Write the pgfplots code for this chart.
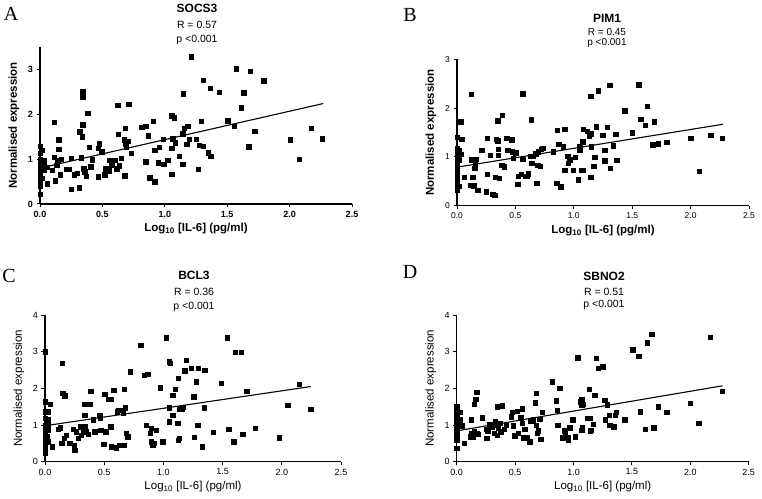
\documentclass[border=0pt]{standalone}
\usepackage{pgfplots}
\pgfplotsset{compat=1.18}
\usepackage{fontspec}
\setmainfont{Liberation Sans}
\newfontfamily\letterfont{Liberation Serif}

\pgfplotstableread{
x y
0.000 1.29
0.000 1.13
0.000 1.00
0.000 0.91
0.000 0.79
0.000 0.68
0.000 0.59
0.000 0.50
0.000 0.41
0.000 0.22
0.020 1.20
0.030 0.85
0.035 0.76
0.020 0.57
0.035 0.98
0.054 0.82
0.060 0.45
0.116 1.83
0.116 1.04
0.122 0.52
0.100 0.76
0.149 1.43
0.149 1.22
0.143 0.97
0.162 0.65
0.170 1.00
0.135 0.87
0.208 0.77
0.235 0.77
0.249 0.33
0.251 1.02
0.276 0.65
0.297 0.68
0.316 0.36
0.319 1.61
0.338 1.50
0.343 2.50
0.343 2.38
0.343 1.77
0.332 1.03
0.351 0.79
0.357 0.72
0.370 0.62
0.381 2.03
0.392 1.26
0.405 0.83
0.419 0.99
0.465 0.61
0.468 1.24
0.473 1.34
0.495 1.17
0.519 0.65
0.527 0.79
0.549 0.74
0.554 0.97
0.568 0.98
0.576 0.87
0.603 0.97
0.614 0.79
0.624 2.20
0.627 1.55
0.635 0.85
0.649 1.02
0.678 0.63
0.681 1.69
0.676 1.43
0.681 1.34
0.689 1.28
0.703 1.40
0.711 2.23
0.730 1.13
0.814 1.71
0.846 1.74
0.865 1.52
0.846 0.94
0.878 0.59
0.905 1.85
0.919 1.20
0.919 0.50
0.949 0.92
0.954 1.26
0.990 0.89
1.022 0.98
0.985 1.44
1.054 1.25
1.054 1.97
1.073 1.92
1.062 1.46
1.081 1.37
1.054 0.66
1.116 1.07
1.142 0.89
1.142 1.57
1.148 2.46
1.156 1.69
1.183 1.74
1.175 1.33
1.196 1.44
1.210 3.28
1.250 1.44
1.269 0.78
1.277 1.31
1.290 1.85
1.309 2.76
1.309 1.29
1.349 1.14
1.363 2.58
1.368 1.07
1.438 2.49
1.505 1.86
1.556 1.73
1.570 3.02
1.610 2.15
1.632 2.48
1.672 1.28
1.685 2.96
1.720 1.62
1.793 2.75
2.003 1.43
2.075 1.00
2.172 1.69
2.263 1.46
}\dataA

\pgfplotstableread{
x y
0 1.40
0 1.18
0 1.11
0 1.01
0 0.94
0 0.83
0 0.73
0 0.65
0 0.56
0 0.47
0 0.39
0 0.32
0.030 1.72
0.040 1.36
0.020 1.14
0.030 1.06
0.020 0.94
0.020 0.40
0.060 0.59
0.122 2.29
0.122 0.94
0.114 0.42
0.134 0.59
0.142 0.41
0.151 0.77
0.156 0.85
0.165 0.95
0.176 0.32
0.213 1.14
0.250 0.29
0.256 0.64
0.261 1.38
0.284 1.04
0.307 0.24
0.321 0.22
0.327 0.59
0.335 1.36
0.347 1.33
0.349 1.74
0.355 1.16
0.355 1.04
0.361 0.56
0.389 1.85
0.384 0.83
0.406 0.80
0.426 1.38
0.435 1.14
0.469 1.35
0.474 1.11
0.483 0.97
0.503 1.09
0.520 0.44
0.526 0.61
0.548 0.65
0.563 0.95
0.563 2.30
0.582 0.61
0.597 0.61
0.611 0.66
0.625 1.02
0.634 1.76
0.639 0.87
0.653 1.02
0.673 1.07
0.682 0.46
0.690 0.83
0.696 1.11
0.710 0.81
0.719 1.16
0.733 1.18
0.824 1.11
0.858 1.55
0.852 0.46
0.872 1.26
0.889 0.39
0.909 1.21
0.923 1.57
0.923 0.73
0.946 1.02
0.952 0.87
0.966 0.94
0.994 0.73
1.010 1.00
1.040 0.53
1.080 1.57
1.080 0.73
1.066 0.73
1.049 1.21
1.049 1.14
1.077 1.31
1.114 1.53
1.143 2.25
1.134 1.43
1.143 1.48
1.149 1.21
1.143 0.58
1.171 0.81
1.180 0.99
1.194 1.62
1.211 2.36
1.249 1.45
1.266 1.14
1.266 0.92
1.286 1.61
1.306 2.47
1.309 0.77
1.337 1.23
1.357 1.46
1.366 0.93
1.437 1.95
1.500 1.50
1.557 2.48
1.571 1.77
1.609 1.65
1.629 2.04
1.686 1.72
1.674 1.25
1.723 1.27
1.794 1.30
2.000 1.38
2.071 0.71
2.171 1.45
2.271 1.39
}\dataB

\pgfplotstableread{
x y
0 3.00
0 1.64
0 1.36
0 1.18
0 1.00
0 0.86
0 0.73
0 0.59
0 0.47
0 0.36
0 0.23
0.028 1.36
0.042 1.56
0.028 1.14
0.022 0.98
0.028 0.86
0.014 0.68
0.022 0.55
0.062 0.41
0.112 0.89
0.126 0.93
0.146 2.68
0.151 1.86
0.168 1.80
0.140 0.50
0.162 0.64
0.180 0.73
0.210 0.50
0.238 0.89
0.246 0.45
0.252 0.32
0.266 0.82
0.280 0.64
0.303 0.95
0.308 0.73
0.322 0.86
0.336 1.56
0.336 1.27
0.342 0.95
0.350 0.82
0.364 0.75
0.378 1.56
0.387 1.93
0.406 1.14
0.420 0.82
0.462 1.27
0.468 1.18
0.470 0.86
0.504 1.84
0.513 0.82
0.496 0.47
0.538 1.70
0.560 1.70
0.554 0.95
0.560 0.41
0.580 1.95
0.602 0.38
0.610 1.36
0.622 1.41
0.630 0.45
0.650 1.41
0.658 1.32
0.667 1.98
0.667 0.45
0.678 1.47
0.686 0.77
0.700 0.68
0.720 2.45
0.807 3.18
0.840 2.36
0.868 2.39
0.854 1.00
0.890 0.77
0.896 0.55
0.910 0.45
0.924 0.50
0.938 0.86
0.896 0.91
0.975 2.02
0.994 0.55
1.022 3.38
1.050 2.73
1.059 2.68
1.050 1.09
1.050 1.47
1.078 1.82
1.078 1.27
1.100 1.98
1.125 2.27
1.120 1.05
1.125 0.59
1.134 0.64
1.134 1.44
1.156 1.44
1.166 1.48
1.180 2.48
1.194 2.77
1.234 2.55
1.255 1.77
1.259 0.66
1.275 2.18
1.296 2.55
1.290 1.00
1.330 0.41
1.345 1.47
1.350 2.50
1.420 0.81
1.486 2.14
1.537 3.38
1.550 0.89
1.593 0.55
1.607 2.98
1.655 2.98
1.669 0.75
1.703 1.93
1.773 0.91
1.979 0.65
2.049 1.54
2.148 2.12
2.244 1.43
}\dataC

\pgfplotstableread{
x y
0 1.52
0 1.38
0 1.27
0 1.18
0 1.09
0 1.00
0 0.91
0 0.82
0 0.71
0 0.59
0 0.36
0.030 1.35
0.030 1.14
0.037 0.98
0.048 0.98
0.065 0.50
0.122 1.14
0.114 0.68
0.128 0.77
0.142 0.68
0.150 1.56
0.162 1.70
0.170 1.89
0.150 0.82
0.170 0.77
0.180 0.75
0.219 1.20
0.250 0.89
0.256 0.64
0.264 0.84
0.284 1.02
0.298 0.94
0.321 0.77
0.327 1.11
0.335 1.00
0.347 0.73
0.349 1.50
0.355 0.91
0.369 1.05
0.378 0.82
0.389 1.53
0.406 0.89
0.426 1.00
0.469 1.23
0.474 1.35
0.483 0.98
0.497 0.71
0.520 1.38
0.526 0.77
0.548 1.20
0.560 1.44
0.563 1.05
0.568 0.65
0.582 0.89
0.605 0.65
0.625 0.55
0.634 1.11
0.653 1.14
0.673 1.61
0.682 1.86
0.682 1.00
0.690 0.77
0.696 0.84
0.710 1.16
0.719 0.61
0.730 1.35
0.815 2.18
0.852 1.66
0.861 1.41
0.866 1.00
0.881 2.00
0.909 0.65
0.923 0.84
0.929 0.77
0.952 0.59
0.957 0.65
0.966 0.93
0.994 1.14
1.014 0.68
1.037 2.84
1.074 0.93
1.071 1.71
1.080 1.56
1.057 1.64
1.071 1.55
1.071 0.86
1.123 1.18
1.143 1.18
1.134 1.98
1.143 0.84
1.149 0.86
1.169 1.02
1.180 1.82
1.194 2.82
1.209 2.55
1.249 2.59
1.266 1.68
1.271 1.14
1.286 1.55
1.306 1.27
1.309 1.00
1.343 0.95
1.357 1.27
1.366 1.35
1.437 1.14
1.506 3.05
1.557 2.88
1.571 1.36
1.614 0.89
1.631 3.25
1.671 3.47
1.686 0.93
1.723 1.50
1.797 1.35
2.000 1.60
2.071 1.05
2.171 3.40
2.271 1.93
}\dataD

\pgfplotsset{
  prism/.style={
    scale only axis, anchor=south west,
    axis lines=left, axis line style={-, line width=1.3pt},
    xmin=0, xmax=2.5, ymin=0,
    xtick={0,0.5,1,1.5,2,2.5},
    tick align=outside, major tick length=3.5pt,
    tick style={line width=1pt, black},
    /pgf/number format/assume math mode=true,
    xticklabel style={/pgf/number format/.cd, fixed, fixed zerofill, precision=1},
    ticklabel style={font=\fontsize{9}{10}\selectfont},
    xlabel={Log\textsubscript{10} [IL-6] (pg/ml)},
    ylabel={Normalised expression},
    label style={font=\fontsize{11.5}{13}\selectfont},
    xlabel style={at={([yshift=-25pt]axis description cs:0.5,0)}, anchor=center},
    ylabel style={at={([xshift=-26pt]axis description cs:0,0.5)}, anchor=center},
    clip=false,
  },
  toprow/.style={
    ticklabel style={font=\fontsize{9}{10}\selectfont\bfseries},
    label style={font=\fontsize{11.5}{13}\selectfont\bfseries},
  },
  pts/.style={only marks, mark=square*, mark size=2.2pt, black},
  fit/.style={no marks, black, line width=1.1pt},
}

\begin{document}
\begin{tikzpicture}
% Panel A
\begin{axis}[prism, toprow, at={(40pt,294pt)}, width=312pt, height=157pt, ymax=3.5, ytick={0,1,2,3}]
\addplot[pts] table {\dataA};
\addplot[fit] coordinates {(0,0.80) (2.27,2.24)};
\end{axis}
% Panel B
\begin{axis}[prism, toprow, at={(457pt,292.3pt)}, width=292pt, height=146.3pt, ymax=3, ytick={0,1,2,3},
  ticklabel style={font=\fontsize{8.5}{10}\selectfont}]
\addplot[pts] table {\dataB};
\addplot[fit] coordinates {(0,0.79) (2.277,1.67)};
\end{axis}
% Panel C
\begin{axis}[prism, at={(45pt,36.3pt)}, width=296pt, height=146.7pt, ymax=4, ytick={0,1,2,3,4}]
\addplot[pts] table {\dataC};
\addplot[fit] coordinates {(0,0.98) (2.246,2.05)};
\end{axis}
% Panel D
\begin{axis}[prism, at={(456.7pt,36.3pt)}, width=292pt, height=146.7pt, ymax=4, ytick={0,1,2,3,4}]
\addplot[pts] table {\dataD};
\addplot[fit] coordinates {(0,0.84) (2.277,2.07)};
\end{axis}

% titles
\begin{scope}[every node/.style={anchor=mid}]
\node[font=\fontsize{12}{14}\selectfont\bfseries] at (197pt,488pt) {SOCS3};
\node[font=\fontsize{10.5}{12}\selectfont] at (197pt,472pt) {R = 0.57};
\node[font=\fontsize{10.5}{12}\selectfont] at (197pt,458pt) {p <0.001};
\node[font=\fontsize{12}{14}\selectfont\bfseries] at (607pt,478pt) {PIM1};
\node[font=\fontsize{10}{12}\selectfont] at (607pt,465pt) {R = 0.45};
\node[font=\fontsize{10}{12}\selectfont] at (607pt,455pt) {p <0.001};
\node[font=\fontsize{12}{14}\selectfont\bfseries] at (194pt,221pt) {BCL3};
\node[font=\fontsize{10.5}{12}\selectfont] at (194pt,205pt) {R = 0.36};
\node[font=\fontsize{10.5}{12}\selectfont] at (194pt,191pt) {p <0.001};
\node[font=\fontsize{12}{14}\selectfont\bfseries] at (604pt,220pt) {SBNO2};
\node[font=\fontsize{10.5}{12}\selectfont] at (604pt,205pt) {R = 0.51};
\node[font=\fontsize{10.5}{12}\selectfont] at (604pt,193pt) {p <0.001};
\end{scope}
% panel letters
\begin{scope}[every node/.style={font=\letterfont\fontsize{20}{20}\selectfont, anchor=center}]
\node at (11pt,484pt) {A};
\node at (410pt,483pt) {B};
\node at (9pt,222pt) {C};
\node at (410pt,226pt) {D};
\end{scope}
\pgfresetboundingbox
\path (0,0) rectangle (762pt,498pt);
\end{tikzpicture}
\end{document}
